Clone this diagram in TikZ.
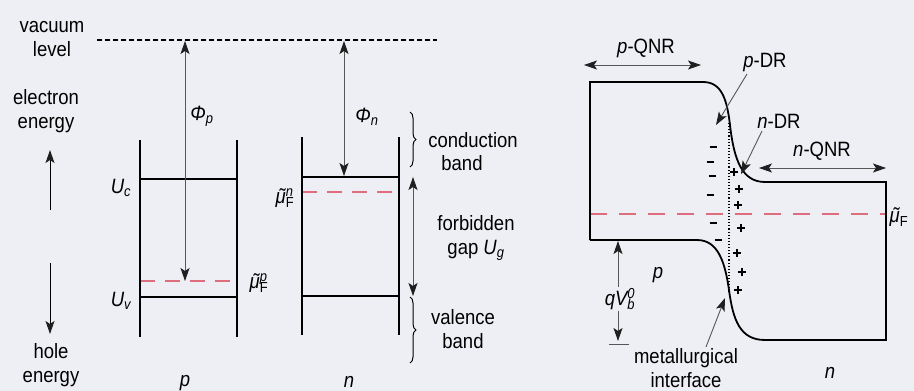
\documentclass[tikz,border=0pt]{standalone}
\usepackage{fontspec}
\setmainfont{Liberation Sans}
\usepackage{graphicx}
\usetikzlibrary{arrows.meta,decorations.pathreplacing}
\definecolor{bg}{RGB}{237,239,244}
\definecolor{fermired}{RGB}{222,110,125}
\definecolor{arrgray}{RGB}{85,85,90}
\newcommand\vs[1]{\scalebox{1}[1.12]{#1}}
\newcommand\tl[2]{\vs{\begin{tabular}{@{}c@{}}#1\\#2\end{tabular}}}
\newcommand\sub[1]{\textsubscript{\itshape #1}}
\newcommand\mut{{\ooalign{\itshape μ\cr\hidewidth\kern0.2em\upshape ˜\hidewidth\cr}}}
\begin{document}
\begin{tikzpicture}[x=1pt,y=-1pt,
  >={Stealth[length=13pt,width=9pt,inset=3pt,color=black!88]},
  lbl/.style={inner sep=0pt,font=\fontsize{18.5}{21}\selectfont},
  bandline/.style={line width=1.8pt},
  darr/.style={draw=arrgray,line width=0.9pt},
  fermi/.style={draw=fermired,line width=1.5pt,dash pattern=on 15pt off 10pt},
  brc/.style={decorate,decoration={brace,amplitude=6pt},line width=1pt},
  sign/.style={line width=1.4pt}]
\fill[bg] (0,0) rectangle (914,391);
\useasboundingbox (0,0) rectangle (914,391);

% ---------- left diagram ----------
\coordinate (vacL) at (97,40); \coordinate (vacR) at (437,40);
\draw[line width=1.2pt,dash pattern=on 5pt off 3pt] (vacL) -- (vacR);
\node[lbl] (vac) at (52,40) {\tl{vacuum}{level}};
\node[lbl] (elen) at (46,112) {\tl{electron}{energy}};
\node[lbl] (hoen) at (51,366) {\tl{hole}{energy}};
\coordinate (eeA) at (50,210); \coordinate (eeB) at (50,150);
\coordinate (heA) at (50,263); \coordinate (heB) at (50,334);
\draw[->,line width=1pt] (eeA) -- (eeB);
\draw[->,line width=1pt] (heA) -- (heB);

% p box
\coordinate (pTL) at (140,140); \coordinate (pBL) at (140,337);
\coordinate (pTR) at (237,140); \coordinate (pBR) at (237,337);
\coordinate (pUcL) at (140,179); \coordinate (pUcR) at (237,179);
\coordinate (pUvL) at (140,297); \coordinate (pUvR) at (237,297);
\coordinate (pFL) at (140,281); \coordinate (pFR) at (237,281);
\draw[fermi] (pFL) -- (pFR);
\draw[bandline] (pTL) -- (pBL) (pTR) -- (pBR) (pUcL) -- (pUcR) (pUvL) -- (pUvR);
\coordinate (phpA) at (185,41); \coordinate (phpB) at (185,281);
\draw[darr,<->] (phpA) -- (phpB);
\node[lbl] (Uc) at (121,188) {\vs{{\itshape U}\sub{c}}};
\node[lbl] (Uv) at (121,301) {\vs{{\itshape U}\sub{v}}};
\node[lbl] (mup) at (259,283) {\vs{\mut\rlap{\textsuperscript{\itshape p}}\textsubscript{F}}};
\node[lbl] (Php) at (202,116) {\vs{{\itshape Φ}\sub{p}}};
\node[lbl] (pL) at (185,383) {\vs{\itshape p}};

% n box
\coordinate (nTL) at (302,137); \coordinate (nBL) at (302,335);
\coordinate (nTR) at (399,137); \coordinate (nBR) at (399,335);
\coordinate (nUcL) at (302,177); \coordinate (nUcR) at (399,177);
\coordinate (nUvL) at (302,296); \coordinate (nUvR) at (399,296);
\coordinate (nFL) at (302,192); \coordinate (nFR) at (399,192);
\draw[fermi] (nFL) -- (nFR);
\draw[bandline] (nTL) -- (nBL) (nTR) -- (nBR) (nUcL) -- (nUcR) (nUvL) -- (nUvR);
\coordinate (phnA) at (344,41); \coordinate (phnB) at (344,176);
\draw[darr,<->] (phnA) -- (phnB);
\coordinate (gapA) at (413,177); \coordinate (gapB) at (413,296);
\draw[darr,<->] (gapA) -- (gapB);
\node[lbl] (mun) at (285,198) {\vs{\mut\rlap{\textsuperscript{\itshape n}}\textsubscript{F}}};
\node[lbl] (Phn) at (367,117) {\vs{{\itshape Φ}\sub{n}}};
\node[lbl] (nL) at (349,382) {\vs{\itshape n}};

% braces and labels
\coordinate (cbA) at (410,112); \coordinate (cbB) at (410,167);
\coordinate (vbA) at (410,297); \coordinate (vbB) at (410,363);
\draw[brc] (cbA) -- (cbB);
\draw[brc] (vbA) -- (vbB);
\node[lbl] (cond) at (473,140) {\vs{conduction}};
\node[lbl] (condb) at (462,163) {\vs{band}};
\node[lbl] (forb) at (476,238) {\tl{forbidden}{gap {\itshape U}\sub{g}}};
\node[lbl] (val) at (463,332) {\tl{valence}{band}};

% ---------- right diagram ----------
\coordinate (tl) at (590,82); \coordinate (bl) at (590,240);
\coordinate (tr) at (886,182); \coordinate (br) at (886,340);
\coordinate (fL) at (590,214); \coordinate (fR) at (886,214);
\draw[fermi,dash pattern=on 17pt off 12pt] (fL) -- (fR);
\draw[line width=1.1pt,dotted] (729,123) -- (729,292);
\draw[bandline] (bl) -- (tl) -- (703,82)
  .. controls (722,82) and (727,100) .. (730,125)
  .. controls (734,160) and (742,182) .. (765,182) -- (tr) -- (br) -- (765,340)
  .. controls (740,340) and (733,320) .. (729,290)
  .. controls (725,262) and (718,240) .. (697,240) -- (bl);

% space charge signs
\foreach \y/\x in {147/713,162/710,176/712,195/710,223/713,240/718}
  \draw[sign] (\x-3.5,\y) -- (\x+3.5,\y);
\foreach \y/\x in {172/734,189/739,205/738,228/741,253/737,272/742,290/738}
  \draw[sign] (\x-4,\y) -- (\x+4,\y) (\x,\y-4) -- (\x,\y+4);

% region arrows
\coordinate (pqA) at (584,65); \coordinate (pqB) at (701,65);
\draw[darr,<->] (pqA) -- (pqB);
\coordinate (nqA) at (759,168); \coordinate (nqB) at (886,168);
\draw[darr,<->] (nqA) -- (nqB);
\node[lbl] (pqnr) at (646,48) {\vs{{\itshape p}-QNR}};
\node[lbl] (nqnr) at (822,151) {\vs{{\itshape n}-QNR}};
\node[lbl] (pdr) at (765,63) {\vs{{\itshape p}-DR}};
\node[lbl] (ndr) at (779,121) {\vs{{\itshape n}-DR}};
\coordinate (pdrA) at (747,74); \coordinate (pdrB) at (716,125);
\draw[darr,->] (pdrA) -- (pdrB);
\coordinate (ndrA) at (762,131); \coordinate (ndrB) at (741,174);
\draw[darr,->] (ndrA) -- (ndrB);

% built-in potential
\coordinate (qvA) at (618,241); \coordinate (qvB) at (618,341);
\draw[darr,<->] (qvA) -- (qvB);
\draw[line width=0.8pt,draw=arrgray] (609,344) -- (629,344);
\node[lbl,fill=bg,inner sep=1pt] (qv) at (620,299) {\vs{{\itshape qV}\rlap{\textsuperscript{\itshape 0}}\sub{b}}};
\node[lbl] (pR) at (658,275) {\vs{\itshape p}};
\node[lbl] (muR) at (899,219) {\vs{\mut\textsubscript{F}}};

% metallurgical interface
\node[lbl] (met) at (686,371) {\tl{metallurgical}{interface}};
\coordinate (metA) at (706,347); \coordinate (metB) at (725,298);
\draw[darr,->] (metA) -- (metB);
\node[lbl] (nR) at (830,373) {\vs{\itshape n}};
\end{tikzpicture}
\end{document}
